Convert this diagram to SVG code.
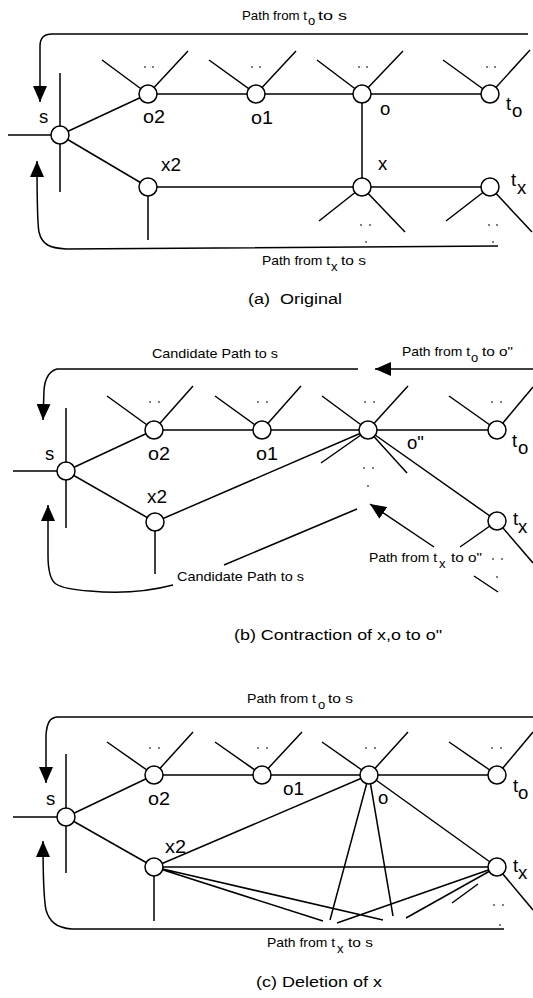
<svg xmlns="http://www.w3.org/2000/svg" width="533" height="998" viewBox="0 0 533 998">
<style>
.e{stroke:#000;stroke-width:1.5;fill:none}
.n{fill:#fff;stroke:#000;stroke-width:1.5}
.d{fill:#444}
text{font-family:"Liberation Sans",Arial,sans-serif;fill:#000}
.l{font-size:18.5px}
.sm{font-size:13px}
.cap{font-size:15.5px}
</style>
<defs>
<marker id="ah" markerUnits="userSpaceOnUse" markerWidth="16" markerHeight="14" refX="16" refY="7" orient="auto">
<path d="M0,0 L16,7 L0,14 z" fill="#000"/>
</marker>
</defs>
<rect width="533" height="998" fill="#fff"/>

<!-- ===== Panel (a) ===== -->
<g id="connectors-a">
<path class="e" d="M8 135H60M60 73V192M60 135L148 94M60 135L148 187"/>
<path class="e" d="M148 94H490M362 94V187M148 187H490M148 187V240"/>
<path class="e" d="M148 94L102 60M148 94L188 51M256 94L209 60M256 94L296 51M362 94L317 60M362 94L403 51M490 94L443 60M490 94L530 50"/>
<path class="e" d="M362 187L319 221M362 187L405 232M490 187L446 221M490 187L532 232"/>
<path class="e" marker-end="url(#ah)" d="M528 34L52 34C44 34 40 38 40 46L40 102"/>
<path class="e" marker-end="url(#ah)" d="M498 246L66 249C50 248 42 245 39 232C37 222 37 200 37 161"/>
</g>
<g id="dots-a">
<circle class="d" cx="145" cy="67" r="0.9"/><circle class="d" cx="153" cy="67" r="0.9"/>
<circle class="d" cx="252" cy="67" r="0.9"/><circle class="d" cx="260" cy="67" r="0.9"/>
<circle class="d" cx="359" cy="67" r="0.9"/><circle class="d" cx="367" cy="67" r="0.9"/>
<circle class="d" cx="487" cy="67" r="0.9"/><circle class="d" cx="495" cy="67" r="0.9"/>
<circle class="d" cx="361" cy="225" r="0.9"/><circle class="d" cx="370" cy="225" r="0.9"/><circle class="d" cx="366" cy="242" r="0.9"/>
<circle class="d" cx="489" cy="225" r="0.9"/><circle class="d" cx="497" cy="225" r="0.9"/><circle class="d" cx="493" cy="242" r="0.9"/>
</g>
<g id="a-s"><circle class="n" cx="60" cy="135" r="9"/><text class="l" x="39" y="123">s</text></g>
<g id="a-o2"><circle class="n" cx="148" cy="94" r="9"/><text class="l" x="143" y="123" textLength="22" lengthAdjust="spacingAndGlyphs">o2</text></g>
<g id="a-o1"><circle class="n" cx="256" cy="94" r="9"/><text class="l" x="251" y="124" textLength="22" lengthAdjust="spacingAndGlyphs">o1</text></g>
<g id="a-o"><circle class="n" cx="362" cy="94" r="9"/><text class="l" x="380" y="115">o</text></g>
<g id="a-to"><circle class="n" cx="490" cy="94" r="9"/><text class="l" x="506" y="110">t</text><text class="l" x="512" y="117">o</text></g>
<g id="a-x2"><circle class="n" cx="148" cy="187" r="9"/><text class="l" x="161" y="171" textLength="20" lengthAdjust="spacingAndGlyphs">x2</text></g>
<g id="a-x"><circle class="n" cx="362" cy="187" r="9"/><text class="l" x="378" y="170">x</text></g>
<g id="a-tx"><circle class="n" cx="490" cy="187" r="9"/><text class="l" x="511" y="186">t</text><text class="l" x="517" y="194">x</text></g>
<g id="a-labels">
<text class="sm" x="242" y="20" textLength="65" lengthAdjust="spacingAndGlyphs">Path from t</text><text class="sm" x="308" y="24.5">o</text><text class="sm" x="318" y="20" textLength="29" lengthAdjust="spacingAndGlyphs">to s</text>
<text class="sm" x="262" y="265" textLength="68" lengthAdjust="spacingAndGlyphs">Path from t</text><text class="sm" x="331" y="271">x</text><text class="sm" x="341" y="265" textLength="25" lengthAdjust="spacingAndGlyphs">to s</text>
<text class="cap" x="248" y="304" textLength="94" lengthAdjust="spacingAndGlyphs" xml:space="preserve">(a)  Original</text>
</g>

<!-- ===== Panel (b) ===== -->
<g id="connectors-b">
<path class="e" d="M13 471H66M66 408V528M66 471L154 430M66 471L155 522"/>
<path class="e" d="M154 430H497M155 522L368 430M368 430L497 521M155 522V574"/>
<path class="e" d="M154 430L107 396M154 430L193 386M262 430L215 396M262 430L301 386M368 430L322 396M368 430L408 386M497 430L449 396M497 430L533 387"/>
<path class="e" d="M368 430L321 463M368 430L407 473M497 521L460 547M497 521L533 563M474 576L498 592"/>
<path class="e" marker-end="url(#ah)" d="M358 369L57 369C50 371 45 377 44 390L43 420"/>
<path class="e" marker-end="url(#ah)" d="M533 369L375 369"/>
<path class="e" marker-end="url(#ah)" d="M434 547L370 504"/>
<path class="e" d="M357 509L224 565"/>
<path class="e" marker-end="url(#ah)" d="M173 585C150 591 120 594 90 591C75 590 62 588 56 584C50 580 48 570 48 555L48 505"/>
</g>
<g id="dots-b">
<circle class="d" cx="150" cy="402" r="0.9"/><circle class="d" cx="159" cy="402" r="0.9"/>
<circle class="d" cx="258" cy="402" r="0.9"/><circle class="d" cx="267" cy="402" r="0.9"/>
<circle class="d" cx="365" cy="402" r="0.9"/><circle class="d" cx="374" cy="402" r="0.9"/>
<circle class="d" cx="492" cy="402" r="0.9"/><circle class="d" cx="501" cy="402" r="0.9"/>
<circle class="d" cx="364" cy="468" r="0.9"/><circle class="d" cx="373" cy="468" r="0.9"/><circle class="d" cx="368" cy="486" r="0.9"/>
<circle class="d" cx="493" cy="559" r="0.9"/><circle class="d" cx="502" cy="559" r="0.9"/><circle class="d" cx="497" cy="577" r="0.9"/>
</g>
<g id="b-s"><circle class="n" cx="66" cy="471" r="9"/><text class="l" x="45" y="460">s</text></g>
<g id="b-o2"><circle class="n" cx="154" cy="430" r="9"/><text class="l" x="148" y="460" textLength="22" lengthAdjust="spacingAndGlyphs">o2</text></g>
<g id="b-o1"><circle class="n" cx="262" cy="430" r="9"/><text class="l" x="256" y="460" textLength="22" lengthAdjust="spacingAndGlyphs">o1</text></g>
<g id="b-opp"><circle class="n" cx="368" cy="430" r="9"/><text class="l" x="407" y="449">o"</text></g>
<g id="b-to"><circle class="n" cx="497" cy="430" r="9"/><text class="l" x="512" y="447">t</text><text class="l" x="518" y="454">o</text></g>
<g id="b-x2"><circle class="n" cx="155" cy="522" r="9"/><text class="l" x="147" y="503" textLength="20" lengthAdjust="spacingAndGlyphs">x2</text></g>
<g id="b-tx"><circle class="n" cx="497" cy="521" r="9"/><text class="l" x="513" y="525">t</text><text class="l" x="518" y="533">x</text></g>
<g id="b-labels">
<text class="sm" x="152" y="358" textLength="126" lengthAdjust="spacingAndGlyphs">Candidate Path to s</text>
<text class="sm" x="402" y="356" textLength="68" lengthAdjust="spacingAndGlyphs">Path from t</text><text class="sm" x="471" y="362">o</text><text class="sm" x="482" y="356" textLength="31" lengthAdjust="spacingAndGlyphs">to o"</text>
<text class="sm" x="369" y="562" textLength="68" lengthAdjust="spacingAndGlyphs">Path from t</text><text class="sm" x="439" y="568">x</text><text class="sm" x="451" y="562" textLength="31" lengthAdjust="spacingAndGlyphs">to o"</text>
<text class="sm" x="177" y="581" textLength="127" lengthAdjust="spacingAndGlyphs">Candidate Path to s</text>
<text class="cap" x="234" y="640" textLength="208" lengthAdjust="spacingAndGlyphs">(b) Contraction of x,o to o"</text>
</g>

<!-- ===== Panel (c) ===== -->
<g id="connectors-c">
<path class="e" d="M13 817H66M66 754V873M66 817L154 775M66 817L154 867"/>
<path class="e" d="M154 775H497M154 867H497M154 867L369 775M369 775L497 867M154 867V921"/>
<path class="e" d="M154 775L107 742M154 775L193 732M262 775L215 742M262 775L302 732M369 775L322 742M369 775L408 732M497 775L449 742M497 775L533 732"/>
<path class="e" d="M369 775L330 920M369 775L393 916M154 867L323 921M154 867L383 920M497 867L337 923M497 867L406 918M452 903L478 884M497 867L533 910"/>
<path class="e" marker-end="url(#ah)" d="M533 717L57 717C50 718 47 722 46 735L46 783"/>
<path class="e" marker-end="url(#ah)" d="M504 929L72 929C55 928 49 920 46 910C44 900 43 880 43 841"/>
</g>
<g id="dots-c">
<circle class="d" cx="150" cy="748" r="0.9"/><circle class="d" cx="159" cy="748" r="0.9"/>
<circle class="d" cx="258" cy="748" r="0.9"/><circle class="d" cx="267" cy="748" r="0.9"/>
<circle class="d" cx="366" cy="748" r="0.9"/><circle class="d" cx="375" cy="748" r="0.9"/>
<circle class="d" cx="492" cy="748" r="0.9"/><circle class="d" cx="501" cy="748" r="0.9"/>
<circle class="d" cx="494" cy="905" r="0.9"/><circle class="d" cx="503" cy="905" r="0.9"/><circle class="d" cx="500" cy="925" r="0.9"/>
</g>
<g id="c-s"><circle class="n" cx="66" cy="817" r="9"/><text class="l" x="46" y="805">s</text></g>
<g id="c-o2"><circle class="n" cx="154" cy="775" r="9"/><text class="l" x="148" y="805" textLength="22" lengthAdjust="spacingAndGlyphs">o2</text></g>
<g id="c-o1"><circle class="n" cx="262" cy="775" r="9"/><text class="l" x="283" y="795" textLength="21" lengthAdjust="spacingAndGlyphs">o1</text></g>
<g id="c-o"><circle class="n" cx="369" cy="775" r="9"/><text class="l" x="378" y="804">o</text></g>
<g id="c-to"><circle class="n" cx="497" cy="775" r="9"/><text class="l" x="513" y="792">t</text><text class="l" x="518" y="799">o</text></g>
<g id="c-x2"><circle class="n" cx="154" cy="867" r="9"/><text class="l" x="165" y="853" textLength="21" lengthAdjust="spacingAndGlyphs">x2</text></g>
<g id="c-tx"><circle class="n" cx="497" cy="867" r="9"/><text class="l" x="513" y="872">t</text><text class="l" x="518" y="879">x</text></g>
<g id="c-labels">
<text class="sm" x="247" y="703" textLength="69" lengthAdjust="spacingAndGlyphs">Path from t</text><text class="sm" x="318" y="709">o</text><text class="sm" x="328" y="703" textLength="25" lengthAdjust="spacingAndGlyphs">to s</text>
<text class="sm" x="267" y="947" textLength="68" lengthAdjust="spacingAndGlyphs">Path from t</text><text class="sm" x="337" y="953">x</text><text class="sm" x="348" y="947" textLength="25" lengthAdjust="spacingAndGlyphs">to s</text>
<text class="cap" x="256" y="987" textLength="126" lengthAdjust="spacingAndGlyphs">(c) Deletion of x</text>
</g>
</svg>
